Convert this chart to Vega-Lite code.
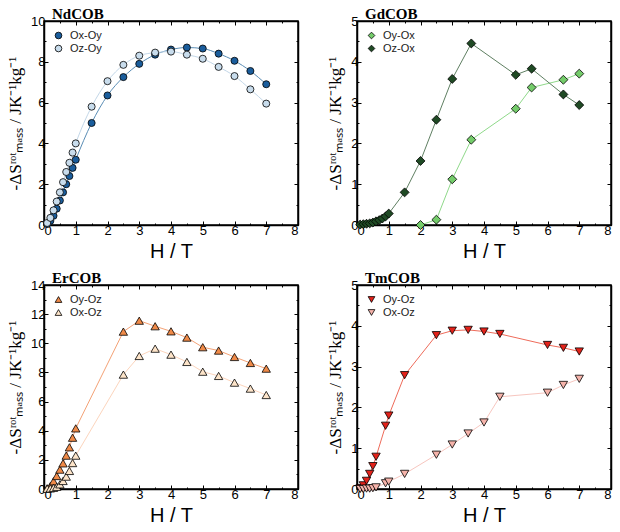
{
  "$schema": "https://vega.github.io/schema/vega-lite/v6.json",
  "padding": {"left": 5, "top": 6, "right": 0, "bottom": 0},
  "background": "white",
  "datasets": {
    "nd": [
      {"H":0.1,"v":0.05,"s":"Ox-Oy"},{"H":0.2,"v":0.2,"s":"Ox-Oy"},{"H":0.3,"v":0.45,"s":"Ox-Oy"},{"H":0.4,"v":0.8,"s":"Ox-Oy"},{"H":0.5,"v":1.2,"s":"Ox-Oy"},{"H":0.6,"v":1.6,"s":"Ox-Oy"},{"H":0.7,"v":2.0,"s":"Ox-Oy"},{"H":0.8,"v":2.4,"s":"Ox-Oy"},{"H":0.9,"v":2.8,"s":"Ox-Oy"},{"H":1.0,"v":3.2,"s":"Ox-Oy"},{"H":1.5,"v":5.0,"s":"Ox-Oy"},{"H":2.0,"v":6.35,"s":"Ox-Oy"},{"H":2.5,"v":7.25,"s":"Ox-Oy"},{"H":3.0,"v":7.9,"s":"Ox-Oy"},{"H":3.5,"v":8.35,"s":"Ox-Oy"},{"H":4.0,"v":8.6,"s":"Ox-Oy"},{"H":4.5,"v":8.7,"s":"Ox-Oy"},{"H":5.0,"v":8.65,"s":"Ox-Oy"},{"H":5.5,"v":8.4,"s":"Ox-Oy"},{"H":6.0,"v":8.05,"s":"Ox-Oy"},{"H":6.5,"v":7.55,"s":"Ox-Oy"},{"H":7.0,"v":6.9,"s":"Ox-Oy"},
      {"H":0.1,"v":0.1,"s":"Oz-Oy"},{"H":0.2,"v":0.35,"s":"Oz-Oy"},{"H":0.3,"v":0.72,"s":"Oz-Oy"},{"H":0.4,"v":1.15,"s":"Oz-Oy"},{"H":0.5,"v":1.6,"s":"Oz-Oy"},{"H":0.6,"v":2.1,"s":"Oz-Oy"},{"H":0.7,"v":2.6,"s":"Oz-Oy"},{"H":0.8,"v":3.05,"s":"Oz-Oy"},{"H":0.9,"v":3.55,"s":"Oz-Oy"},{"H":1.0,"v":4.0,"s":"Oz-Oy"},{"H":1.5,"v":5.8,"s":"Oz-Oy"},{"H":2.0,"v":7.05,"s":"Oz-Oy"},{"H":2.5,"v":7.85,"s":"Oz-Oy"},{"H":3.0,"v":8.3,"s":"Oz-Oy"},{"H":3.5,"v":8.45,"s":"Oz-Oy"},{"H":4.0,"v":8.5,"s":"Oz-Oy"},{"H":4.5,"v":8.35,"s":"Oz-Oy"},{"H":5.0,"v":8.15,"s":"Oz-Oy"},{"H":5.5,"v":7.75,"s":"Oz-Oy"},{"H":6.0,"v":7.3,"s":"Oz-Oy"},{"H":6.5,"v":6.65,"s":"Oz-Oy"},{"H":7.0,"v":5.95,"s":"Oz-Oy"}
    ],
    "gd": [
      {"H":2.0,"v":0.0,"s":"Oy-Ox"},{"H":2.5,"v":0.13,"s":"Oy-Ox"},{"H":3.0,"v":1.12,"s":"Oy-Ox"},{"H":3.6,"v":2.09,"s":"Oy-Ox"},{"H":5.0,"v":2.85,"s":"Oy-Ox"},{"H":5.5,"v":3.37,"s":"Oy-Ox"},{"H":6.5,"v":3.56,"s":"Oy-Ox"},{"H":7.0,"v":3.71,"s":"Oy-Ox"},
      {"H":0.1,"v":0.01,"s":"Oz-Ox"},{"H":0.2,"v":0.02,"s":"Oz-Ox"},{"H":0.3,"v":0.03,"s":"Oz-Ox"},{"H":0.4,"v":0.04,"s":"Oz-Ox"},{"H":0.5,"v":0.06,"s":"Oz-Ox"},{"H":0.6,"v":0.09,"s":"Oz-Ox"},{"H":0.7,"v":0.12,"s":"Oz-Ox"},{"H":0.8,"v":0.16,"s":"Oz-Ox"},{"H":0.9,"v":0.21,"s":"Oz-Ox"},{"H":1.0,"v":0.28,"s":"Oz-Ox"},{"H":1.5,"v":0.8,"s":"Oz-Ox"},{"H":2.0,"v":1.57,"s":"Oz-Ox"},{"H":2.5,"v":2.58,"s":"Oz-Ox"},{"H":3.0,"v":3.58,"s":"Oz-Ox"},{"H":3.6,"v":4.45,"s":"Oz-Ox"},{"H":5.0,"v":3.68,"s":"Oz-Ox"},{"H":5.5,"v":3.83,"s":"Oz-Ox"},{"H":6.5,"v":3.2,"s":"Oz-Ox"},{"H":7.0,"v":2.94,"s":"Oz-Ox"}
    ],
    "er": [
      {"H":0.1,"v":0.05,"s":"Oy-Oz"},{"H":0.2,"v":0.2,"s":"Oy-Oz"},{"H":0.3,"v":0.53,"s":"Oy-Oz"},{"H":0.4,"v":0.89,"s":"Oy-Oz"},{"H":0.5,"v":1.33,"s":"Oy-Oz"},{"H":0.6,"v":1.76,"s":"Oy-Oz"},{"H":0.7,"v":2.29,"s":"Oy-Oz"},{"H":0.8,"v":2.86,"s":"Oy-Oz"},{"H":0.9,"v":3.52,"s":"Oy-Oz"},{"H":1.0,"v":4.16,"s":"Oy-Oz"},{"H":2.5,"v":10.8,"s":"Oy-Oz"},{"H":3.0,"v":11.55,"s":"Oy-Oz"},{"H":3.5,"v":11.17,"s":"Oy-Oz"},{"H":4.0,"v":10.82,"s":"Oy-Oz"},{"H":4.5,"v":10.39,"s":"Oy-Oz"},{"H":5.0,"v":9.73,"s":"Oy-Oz"},{"H":5.5,"v":9.5,"s":"Oy-Oz"},{"H":6.0,"v":9.06,"s":"Oy-Oz"},{"H":6.5,"v":8.65,"s":"Oy-Oz"},{"H":7.0,"v":8.26,"s":"Oy-Oz"},
      {"H":0.1,"v":0.02,"s":"Ox-Oz"},{"H":0.2,"v":0.04,"s":"Ox-Oz"},{"H":0.3,"v":0.08,"s":"Ox-Oz"},{"H":0.4,"v":0.15,"s":"Ox-Oz"},{"H":0.5,"v":0.32,"s":"Ox-Oz"},{"H":0.6,"v":0.55,"s":"Ox-Oz"},{"H":0.7,"v":0.85,"s":"Ox-Oz"},{"H":0.8,"v":1.24,"s":"Ox-Oz"},{"H":0.9,"v":1.78,"s":"Ox-Oz"},{"H":1.0,"v":2.29,"s":"Ox-Oz"},{"H":2.5,"v":7.85,"s":"Ox-Oz"},{"H":3.0,"v":9.13,"s":"Ox-Oz"},{"H":3.5,"v":9.63,"s":"Ox-Oz"},{"H":4.0,"v":9.22,"s":"Ox-Oz"},{"H":4.5,"v":8.72,"s":"Ox-Oz"},{"H":5.0,"v":8.05,"s":"Ox-Oz"},{"H":5.5,"v":7.76,"s":"Ox-Oz"},{"H":6.0,"v":7.3,"s":"Ox-Oz"},{"H":6.5,"v":6.89,"s":"Ox-Oz"},{"H":7.0,"v":6.45,"s":"Ox-Oz"}
    ],
    "tm": [
      {"H":0.1,"v":0.02,"s":"Oy-Oz"},{"H":0.2,"v":0.09,"s":"Oy-Oz"},{"H":0.3,"v":0.2,"s":"Oy-Oz"},{"H":0.4,"v":0.37,"s":"Oy-Oz"},{"H":0.5,"v":0.56,"s":"Oy-Oz"},{"H":0.6,"v":0.79,"s":"Oy-Oz"},{"H":0.9,"v":1.55,"s":"Oy-Oz"},{"H":1.0,"v":1.8,"s":"Oy-Oz"},{"H":1.5,"v":2.79,"s":"Oy-Oz"},{"H":2.5,"v":3.77,"s":"Oy-Oz"},{"H":3.0,"v":3.88,"s":"Oy-Oz"},{"H":3.5,"v":3.9,"s":"Oy-Oz"},{"H":4.0,"v":3.86,"s":"Oy-Oz"},{"H":4.5,"v":3.8,"s":"Oy-Oz"},{"H":6.0,"v":3.53,"s":"Oy-Oz"},{"H":6.5,"v":3.46,"s":"Oy-Oz"},{"H":7.0,"v":3.37,"s":"Oy-Oz"},
      {"H":0.1,"v":0.0,"s":"Ox-Oz"},{"H":0.2,"v":0.0,"s":"Ox-Oz"},{"H":0.3,"v":0.01,"s":"Ox-Oz"},{"H":0.4,"v":0.01,"s":"Ox-Oz"},{"H":0.5,"v":0.02,"s":"Ox-Oz"},{"H":0.6,"v":0.04,"s":"Ox-Oz"},{"H":0.9,"v":0.14,"s":"Ox-Oz"},{"H":1.0,"v":0.18,"s":"Ox-Oz"},{"H":1.5,"v":0.37,"s":"Ox-Oz"},{"H":2.5,"v":0.84,"s":"Ox-Oz"},{"H":3.0,"v":1.09,"s":"Ox-Oz"},{"H":3.5,"v":1.36,"s":"Ox-Oz"},{"H":4.0,"v":1.63,"s":"Ox-Oz"},{"H":4.5,"v":2.26,"s":"Ox-Oz"},{"H":6.0,"v":2.36,"s":"Ox-Oz"},{"H":6.5,"v":2.55,"s":"Ox-Oz"},{"H":7.0,"v":2.7,"s":"Ox-Oz"}
    ]
  },
  "columns": 2,
  "spacing": {"row": 8, "column": 26},
  "resolve": {"scale": {"color": "independent", "stroke": "independent"}, "legend": {"color": "independent", "stroke": "independent"}},
  "concat": [
    {
      "title": {"text": "NdCOB"},
      "width": 254, "height": 204,
      "data": {"name": "nd"},
      "layer": [
        {"mark": {"type": "line", "interpolate": "monotone", "strokeWidth": 1},
         "encoding": {
           "x": {"field": "H", "type": "quantitative", "scale": {"domain": [0, 8], "nice": false}, "axis": {"orient": "top", "labels": false, "title": null, "values": [0,0.5,1,1.5,2,2.5,3,3.5,4,4.5,5,5.5,6,6.5,7,7.5,8], "tickSize": {"condition": {"test": "datum.value % 1 === 0", "value": -4}, "value": -2}}},
           "y": {"field": "v", "type": "quantitative", "scale": {"domain": [0, 10], "nice": false}, "axis": {"orient": "right", "labels": false, "title": null, "values": [0,1,2,3,4,5,6,7,8,9,10], "tickSize": {"condition": {"test": "datum.value % 2 === 0", "value": -4}, "value": -2}}},
           "stroke": {"field": "s", "type": "nominal", "scale": {"domain": ["Ox-Oy", "Oz-Oy", "_"], "range": ["#5a8db5", "#c3d7e8", "#888888"]}, "legend": null}}},
        {"mark": {"type": "point", "filled": true, "shape": "circle", "size": 50, "stroke": "black", "strokeWidth": 0.8, "opacity": 1},
         "encoding": {
           "x": {"field": "H", "type": "quantitative", "axis": {"orient": "bottom", "title": "H / T", "values": [0,0.5,1,1.5,2,2.5,3,3.5,4,4.5,5,5.5,6,6.5,7,7.5,8], "labelExpr": "datum.value % 1 === 0 ? format(datum.value, 'd') : ''", "tickSize": {"condition": {"test": "datum.value % 1 === 0", "value": -4}, "value": -2}}},
           "y": {"field": "v", "type": "quantitative", "axis": {"orient": "left", "title": "-ΔSʳᵒᵗₘₐₛₛ / JK⁻¹kg⁻¹", "values": [0,1,2,3,4,5,6,7,8,9,10], "labelExpr": "datum.value % 2 === 0 ? format(datum.value, 'd') : ''", "tickSize": {"condition": {"test": "datum.value % 2 === 0", "value": -4}, "value": -2}}},
           "color": {"field": "s", "type": "nominal", "scale": {"domain": ["Ox-Oy", "Oz-Oy"], "range": ["#1a5d9c", "#c8dcec"]}, "legend": {"symbolType": "circle", "orient": "top-left", "title": null}}}}
      ]
    },
    {
      "title": {"text": "GdCOB"},
      "width": 254, "height": 204,
      "data": {"name": "gd"},
      "layer": [
        {"mark": {"type": "line", "strokeWidth": 1},
         "encoding": {
           "x": {"field": "H", "type": "quantitative", "scale": {"domain": [0, 8], "nice": false}, "axis": {"orient": "top", "labels": false, "title": null, "values": [0,0.5,1,1.5,2,2.5,3,3.5,4,4.5,5,5.5,6,6.5,7,7.5,8], "tickSize": {"condition": {"test": "datum.value % 1 === 0", "value": -4}, "value": -2}}},
           "y": {"field": "v", "type": "quantitative", "scale": {"domain": [0, 5], "nice": false}, "axis": {"orient": "right", "labels": false, "title": null, "values": [0,0.5,1,1.5,2,2.5,3,3.5,4,4.5,5], "tickSize": {"condition": {"test": "datum.value % 1 === 0", "value": -4}, "value": -2}}},
           "stroke": {"field": "s", "type": "nominal", "scale": {"domain": ["Oy-Ox", "Oz-Ox", "_"], "range": ["#8fd98a", "#5f7f62", "#888888"]}, "legend": null}}},
        {"mark": {"type": "point", "filled": true, "shape": "diamond", "size": 80, "stroke": "black", "strokeWidth": 0.8, "opacity": 1},
         "encoding": {
           "x": {"field": "H", "type": "quantitative", "axis": {"orient": "bottom", "title": "H / T", "values": [0,0.5,1,1.5,2,2.5,3,3.5,4,4.5,5,5.5,6,6.5,7,7.5,8], "labelExpr": "datum.value % 1 === 0 ? format(datum.value, 'd') : ''", "tickSize": {"condition": {"test": "datum.value % 1 === 0", "value": -4}, "value": -2}}},
           "y": {"field": "v", "type": "quantitative", "axis": {"orient": "left", "title": "-ΔSʳᵒᵗₘₐₛₛ / JK⁻¹kg⁻¹", "values": [0,0.5,1,1.5,2,2.5,3,3.5,4,4.5,5], "labelExpr": "datum.value % 1 === 0 ? format(datum.value, 'd') : ''", "tickSize": {"condition": {"test": "datum.value % 1 === 0", "value": -4}, "value": -2}}},
           "color": {"field": "s", "type": "nominal", "scale": {"domain": ["Oy-Ox", "Oz-Ox"], "range": ["#74cc6a", "#1f4a24"]}, "legend": {"symbolType": "diamond", "orient": "top-left", "title": null}}}}
      ]
    },
    {
      "title": {"text": "ErCOB"},
      "width": 254, "height": 204,
      "data": {"name": "er"},
      "layer": [
        {"mark": {"type": "line", "strokeWidth": 1},
         "encoding": {
           "x": {"field": "H", "type": "quantitative", "scale": {"domain": [0, 8], "nice": false}, "axis": {"orient": "top", "labels": false, "title": null, "values": [0,0.5,1,1.5,2,2.5,3,3.5,4,4.5,5,5.5,6,6.5,7,7.5,8], "tickSize": {"condition": {"test": "datum.value % 1 === 0", "value": -4}, "value": -2}}},
           "y": {"field": "v", "type": "quantitative", "scale": {"domain": [0, 14], "nice": false}, "axis": {"orient": "right", "labels": false, "title": null, "values": [0,1,2,3,4,5,6,7,8,9,10,11,12,13,14], "tickSize": {"condition": {"test": "datum.value % 2 === 0", "value": -4}, "value": -2}}},
           "stroke": {"field": "s", "type": "nominal", "scale": {"domain": ["Oy-Oz", "Ox-Oz", "_"], "range": ["#f4a276", "#fcd5bd", "#888888"]}, "legend": null}}},
        {"mark": {"type": "point", "filled": true, "shape": "triangle-up", "size": 70, "stroke": "black", "strokeWidth": 0.8, "opacity": 1},
         "encoding": {
           "x": {"field": "H", "type": "quantitative", "axis": {"orient": "bottom", "title": "H / T", "values": [0,0.5,1,1.5,2,2.5,3,3.5,4,4.5,5,5.5,6,6.5,7,7.5,8], "labelExpr": "datum.value % 1 === 0 ? format(datum.value, 'd') : ''", "tickSize": {"condition": {"test": "datum.value % 1 === 0", "value": -4}, "value": -2}}},
           "y": {"field": "v", "type": "quantitative", "axis": {"orient": "left", "title": "-ΔSʳᵒᵗₘₐₛₛ / JK⁻¹kg⁻¹", "values": [0,1,2,3,4,5,6,7,8,9,10,11,12,13,14], "labelExpr": "datum.value % 2 === 0 ? format(datum.value, 'd') : ''", "tickSize": {"condition": {"test": "datum.value % 2 === 0", "value": -4}, "value": -2}}},
           "color": {"field": "s", "type": "nominal", "scale": {"domain": ["Oy-Oz", "Ox-Oz"], "range": ["#f08a48", "#fde4c9"]}, "legend": {"symbolType": "triangle-up", "orient": "top-left", "title": null}}}}
      ]
    },
    {
      "title": {"text": "TmCOB"},
      "width": 254, "height": 204,
      "data": {"name": "tm"},
      "layer": [
        {"mark": {"type": "line", "strokeWidth": 1},
         "encoding": {
           "x": {"field": "H", "type": "quantitative", "scale": {"domain": [0, 8], "nice": false}, "axis": {"orient": "top", "labels": false, "title": null, "values": [0,0.5,1,1.5,2,2.5,3,3.5,4,4.5,5,5.5,6,6.5,7,7.5,8], "tickSize": {"condition": {"test": "datum.value % 1 === 0", "value": -4}, "value": -2}}},
           "y": {"field": "v", "type": "quantitative", "scale": {"domain": [0, 5], "nice": false}, "axis": {"orient": "right", "labels": false, "title": null, "values": [0,0.5,1,1.5,2,2.5,3,3.5,4,4.5,5], "tickSize": {"condition": {"test": "datum.value % 1 === 0", "value": -4}, "value": -2}}},
           "stroke": {"field": "s", "type": "nominal", "scale": {"domain": ["Oy-Oz", "Ox-Oz", "_"], "range": ["#ee6b5a", "#f7c6bf", "#888888"]}, "legend": null}}},
        {"mark": {"type": "point", "filled": true, "shape": "triangle-down", "size": 70, "stroke": "black", "strokeWidth": 0.8, "opacity": 1},
         "encoding": {
           "x": {"field": "H", "type": "quantitative", "axis": {"orient": "bottom", "title": "H / T", "values": [0,0.5,1,1.5,2,2.5,3,3.5,4,4.5,5,5.5,6,6.5,7,7.5,8], "labelExpr": "datum.value % 1 === 0 ? format(datum.value, 'd') : ''", "tickSize": {"condition": {"test": "datum.value % 1 === 0", "value": -4}, "value": -2}}},
           "y": {"field": "v", "type": "quantitative", "axis": {"orient": "left", "title": "-ΔSʳᵒᵗₘₐₛₛ / JK⁻¹kg⁻¹", "values": [0,0.5,1,1.5,2,2.5,3,3.5,4,4.5,5], "labelExpr": "datum.value % 1 === 0 ? format(datum.value, 'd') : ''", "tickSize": {"condition": {"test": "datum.value % 1 === 0", "value": -4}, "value": -2}}},
           "color": {"field": "s", "type": "nominal", "scale": {"domain": ["Oy-Oz", "Ox-Oz"], "range": ["#e3221a", "#f5b3aa"]}, "legend": {"symbolType": "triangle-down", "orient": "top-left", "title": null}}}}
      ]
    }
  ],
  "config": {
    "font": "Liberation Sans",
    "view": {"stroke": "black", "strokeWidth": 1.5},
    "title": {"anchor": "start", "frame": "group", "font": "Liberation Serif", "fontSize": 15, "fontWeight": "bold", "color": "black", "dx": 8, "offset": -7},
    "axis": {"grid": false, "domainColor": "black", "domainWidth": 1.5, "tickColor": "black", "tickWidth": 1, "labelFontSize": 13, "labelColor": "black", "labelPadding": 3, "labelOverlap": false, "titleColor": "black", "titleFontWeight": "normal"},
    "axisX": {"titleFontSize": 20, "titlePadding": 2},
    "axisY": {"titleFont": "Liberation Serif", "titleFontSize": 17, "titlePadding": 6},
    "legend": {"offset": 9, "labelFontSize": 11, "labelColor": "#222", "symbolStrokeColor": "black", "symbolStrokeWidth": 0.8, "symbolSize": 45, "rowPadding": 1, "padding": 0, "labelOffset": 6}
  }
}
